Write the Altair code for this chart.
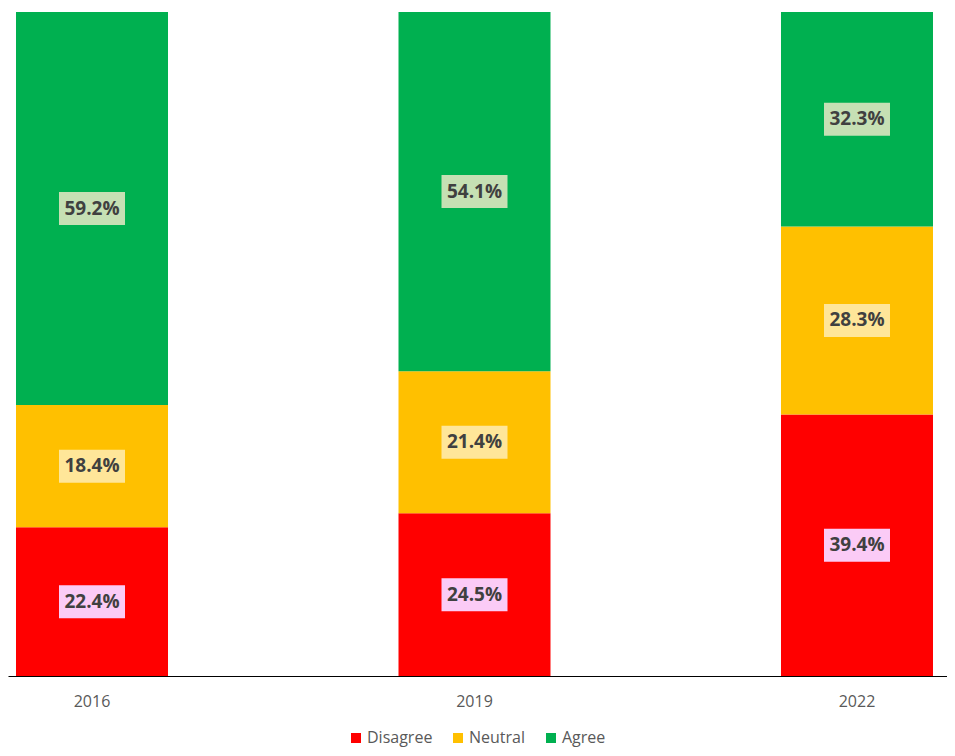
import altair as alt
import pandas as pd

years = ["2016", "2019", "2022"]
categories = ["Disagree", "Neutral", "Agree"]
disagree = [22.4, 24.5, 39.4]
neutral = [18.4, 21.4, 28.3]
agree = [59.2, 54.1, 32.3]

bar_colors = ["#FF0000", "#FFC000", "#00B050"]
box_colors = ["#FBCBF6", "#FFE699", "#C6E0B4"]

rows = []
for i, y in enumerate(years):
    for j, (c, vals) in enumerate(zip(categories, [disagree, neutral, agree])):
        rows.append({"year": y, "cat": c, "idx": j, "value": vals[i]})
df = pd.DataFrame(rows)

x_enc = alt.X(
    "year:N",
    title=None,
    scale=alt.Scale(paddingInner=0.6026, paddingOuter=0.02876, align=0.3636),
    axis=alt.Axis(
        ticks=False, tickSize=0, labelAngle=0, labelFontSize=16,
        labelFont="Open Sans", labelColor="#595959", labelPadding=17,
        domainColor="#000000", domainWidth=1, grid=False,
    ),
)

base = alt.Chart(df).transform_stack(
    stack="value", groupby=["year"], as_=["v0", "v1"],
    sort=[alt.SortField("idx", order="ascending")],
).transform_calculate(
    mid="(datum.v0 + datum.v1) / 2",
    label="format(datum.value, '.1f') + '%'",
)

bars = base.mark_bar().encode(
    x=x_enc,
    y=alt.Y("v0:Q", scale=alt.Scale(domain=[0, 100], nice=False), axis=None),
    y2="v1:Q",
    color=alt.Color(
        "cat:N",
        scale=alt.Scale(domain=categories, range=bar_colors),
        legend=alt.Legend(
            title=None, orient="none", direction="horizontal",
            legendX=340, legendY=718, symbolType="square", symbolSize=100,
            symbolStrokeWidth=0, labelFontSize=16, labelFont="Open Sans",
            labelColor="#595959", columnPadding=17, labelOffset=3, padding=0,
        ),
    ),
)

boxes = base.mark_point(
    shape="M-1,-0.5L1,-0.5L1,0.5L-1,0.5Z",
    size=4356, filled=True, opacity=1, strokeWidth=0,
).encode(
    x=x_enc,
    y=alt.Y("mid:Q"),
    fill=alt.Fill(
        "cat:N",
        scale=alt.Scale(domain=categories, range=box_colors),
        legend=None,
    ),
)

labels = base.mark_text(
    font="Open Sans", fontSize=19, fontWeight="bold", color="#404040",
    baseline="middle", align="center",
).encode(
    x=x_enc,
    y=alt.Y("mid:Q"),
    text="label:N",
)

chart = alt.layer(bars, boxes, labels).resolve_scale(
    color="independent", fill="independent"
).properties(
    width=939, height=664,
    autosize=alt.AutoSizeParams(type="none"),
    padding={"left": 0, "top": 4, "right": 0, "bottom": 72},
).configure_view(stroke=None)

chart.save("out.html", embed_options={"renderer": "svg", "actions": False})
